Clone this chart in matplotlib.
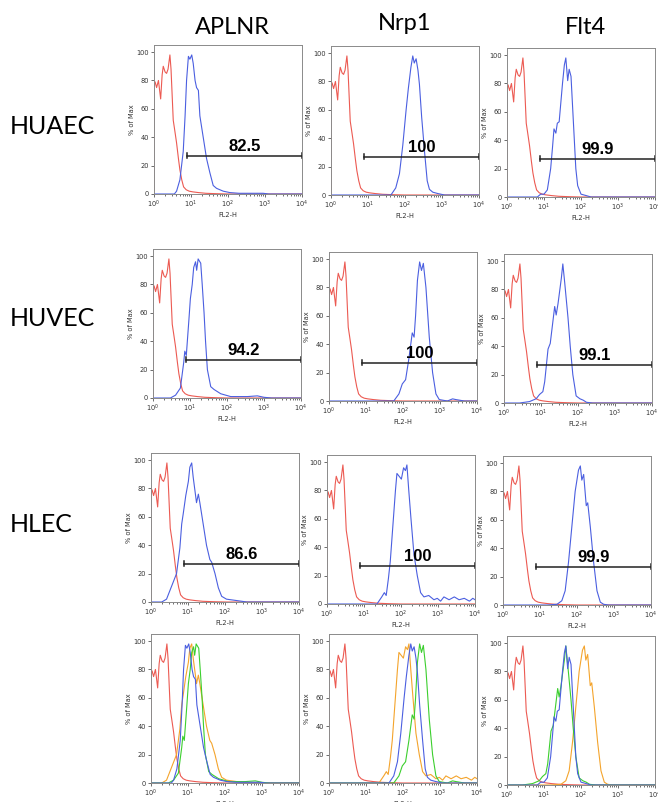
import numpy as np
import matplotlib.pyplot as plt

# column / row labels and gate percentages
markers = ['APLNR', 'Nrp1', 'Flt4']
cells = ['HUAEC', 'HUVEC', 'HLEC']
gate_values = [['82.5', '100', '99.9'],
               ['94.2', '100', '99.1'],
               ['86.6', '100', '99.9']]
gate_lo = 10 ** 0.9
gate_hi = 1e4
gate_y = 27

# histograms as (log10 FL2-H, % of Max)
control = [(0, 0), (0, 76), (0.03, 79), (0.07, 75), (0.12, 80), (0.18, 67), (0.22, 84),
           (0.25, 90), (0.3, 86), (0.34, 85), (0.38, 88), (0.43, 98), (0.46, 88),
           (0.49, 70), (0.52, 52), (0.56, 45), (0.61, 36), (0.66, 25), (0.7, 17),
           (0.75, 10), (0.8, 5), (0.87, 3), (0.95, 2), (1.05, 1.5), (1.2, 1),
           (1.4, 0.5), (1.7, 0.2), (2.0, 0), (4, 0)]

huaec_aplnr = [(0, 0), (0.55, 0), (0.61, 2), (0.7, 10), (0.79, 30), (0.84, 55), (0.88, 80),
               (0.93, 97), (0.97, 95), (1.02, 98), (1.06, 92), (1.11, 80), (1.15, 75),
               (1.2, 73), (1.24, 55), (1.33, 40), (1.42, 25), (1.51, 15), (1.6, 6),
               (1.69, 4), (1.87, 2), (2.05, 1), (2.3, 0.5), (2.95, 0.5), (3.1, 0), (4, 0)]
huaec_nrp1 = [(0, 0), (1.62, 0), (1.75, 5), (1.85, 15), (1.94, 35), (2.03, 60), (2.09, 75),
              (2.16, 90), (2.21, 98), (2.25, 93), (2.3, 96), (2.35, 88), (2.39, 78),
              (2.45, 55), (2.53, 30), (2.6, 10), (2.66, 4), (2.75, 2), (2.89, 1),
              (3.07, 0), (4, 0)]
huaec_flt4 = [(0, 0), (0.82, 0), (0.91, 2), (1.0, 2), (1.09, 5), (1.18, 20), (1.23, 35),
              (1.27, 48), (1.32, 45), (1.36, 52), (1.41, 53), (1.45, 65), (1.5, 80),
              (1.55, 93), (1.59, 98), (1.64, 82), (1.68, 90), (1.73, 85), (1.77, 65),
              (1.82, 40), (1.86, 20), (1.91, 8), (2.0, 2), (2.14, 1), (2.27, 0), (4, 0)]

huvec_aplnr = [(0, 0), (0.47, 0), (0.61, 2), (0.74, 7), (0.83, 25), (0.86, 33), (0.9, 30),
               (0.97, 55), (1.01, 70), (1.06, 80), (1.1, 92), (1.15, 96), (1.18, 90),
               (1.22, 98), (1.29, 95), (1.33, 80), (1.38, 60), (1.42, 40), (1.47, 20),
               (1.56, 8), (1.65, 6), (1.83, 3), (2.1, 1), (2.55, 1), (2.82, 1.5),
               (3.0, 0.5), (3.2, 0), (4, 0)]
huvec_nrp1 = [(0, 0), (1.75, 0), (1.89, 5), (1.98, 12), (2.07, 15), (2.16, 30), (2.25, 48),
              (2.3, 45), (2.34, 60), (2.39, 85), (2.45, 98), (2.5, 92), (2.55, 97),
              (2.62, 80), (2.71, 45), (2.8, 20), (2.89, 5), (2.98, 1), (3.2, 0),
              (3.34, 1.5), (3.43, 1), (3.66, 0), (4, 0)]
huvec_flt4 = [(0, 0), (0.42, 0), (0.69, 1), (0.87, 3), (0.96, 6), (1.05, 8), (1.1, 15),
              (1.19, 38), (1.25, 42), (1.31, 55), (1.37, 68), (1.41, 62), (1.46, 70),
              (1.55, 88), (1.59, 98), (1.64, 85), (1.73, 60), (1.79, 40), (1.86, 20),
              (1.95, 5), (2.05, 3), (2.14, 2), (2.23, 0.5), (2.4, 0), (4, 0)]

hlec_aplnr = [(0, 0), (0.29, 0), (0.42, 2), (0.51, 8), (0.6, 14), (0.69, 20), (0.78, 38),
              (0.83, 55), (0.87, 62), (0.94, 75), (1.01, 85), (1.05, 95), (1.1, 98),
              (1.14, 88), (1.19, 78), (1.23, 70), (1.28, 76), (1.32, 70), (1.41, 55),
              (1.5, 40), (1.59, 30), (1.64, 28), (1.73, 20), (1.82, 10), (1.91, 4),
              (2.04, 2), (2.32, 1), (2.59, 0), (4, 0)]
hlec_nrp1 = [(0, 0), (1.35, 0), (1.48, 5), (1.55, 8), (1.6, 6), (1.66, 18), (1.71, 30),
             (1.78, 55), (1.85, 80), (1.89, 92), (1.95, 90), (2.01, 88), (2.07, 96),
             (2.12, 94), (2.16, 98), (2.21, 80), (2.27, 60), (2.35, 35), (2.44, 20),
             (2.53, 8), (2.62, 5), (2.75, 6), (2.89, 3), (2.98, 4), (3.07, 2),
             (3.16, 5), (3.3, 3), (3.44, 5), (3.57, 3), (3.71, 4), (3.85, 2),
             (3.94, 4), (4.0, 3)]
hlec_flt4 = [(0, 0), (1.19, 0), (1.46, 0.5), (1.59, 3), (1.68, 10), (1.77, 30), (1.86, 55),
             (1.95, 80), (2.04, 95), (2.09, 98), (2.13, 88), (2.18, 92), (2.25, 70),
             (2.29, 72), (2.36, 55), (2.45, 30), (2.54, 10), (2.63, 2), (2.72, 0.5),
             (2.85, 0), (4, 0)]

curves = [[huaec_aplnr, huaec_nrp1, huaec_flt4],
          [huvec_aplnr, huvec_nrp1, huvec_flt4],
          [hlec_aplnr, hlec_nrp1, hlec_flt4]]

RED = '#ec5a52'
BLUE = '#4b5fe0'
GREEN = '#3ccf2e'
ORANGE = '#f4a42c'
overlay_colors = [BLUE, GREEN, ORANGE]

W, H = 658, 802
fig = plt.figure(figsize=(W / 100, H / 100), dpi=100)

# panel positions in pixels: left edges per row, y of the zero line per row
lefts = [[154, 331, 507], [153, 329, 504], [151, 327, 503], [151, 329, 507]]
zeros = [[194, 195, 197], [398, 401, 403], [602, 604, 605], [783, 783, 785]]
pw, ph = 148, 149


def draw_curve(ax, pts, color):
    lx, y = zip(*pts)
    ax.plot(10 ** np.array(lx), y, color=color, lw=0.8)


def style(ax):
    ax.set_xscale('log')
    ax.set_xlim(1, 1e4)
    ax.set_ylim(0, 105)
    ax.set_yticks([0, 20, 40, 60, 80, 100])
    ax.tick_params(labelsize=4.8, length=2, width=0.5, pad=1.5, colors='#333333')
    ax.tick_params(which='minor', length=1.2, width=0.4)
    for s in ax.spines.values():
        s.set_color('#8a8a8a')
        s.set_linewidth(0.7)
    ax.set_xlabel('FL2-H', fontsize=4.8, labelpad=1, color='#333333')
    ax.set_ylabel('% of Max', fontsize=4.8, labelpad=1, color='#333333')


for r in range(4):
    for c in range(3):
        ax = fig.add_axes([lefts[r][c] / W, (H - zeros[r][c]) / H, pw / W, ph / H])
        style(ax)
        draw_curve(ax, control, RED)
        if r < 3:
            draw_curve(ax, curves[r][c], BLUE)
            ax.plot([gate_lo, gate_hi], [gate_y, gate_y], color='#222222', lw=1.1)
            for gx in (gate_lo, gate_hi):
                ax.plot([gx, gx], [gate_y - 1.8, gate_y + 1.8], color='#222222', lw=1.1)
            ax.text(10 ** 2.45, gate_y + 1.5, gate_values[r][c], ha='center', va='bottom',
                    fontsize=12, fontweight='bold', family='Liberation Sans')
        else:
            for k in (2, 1, 0):
                draw_curve(ax, curves[k][c], overlay_colors[k])

# column titles and row labels
title_x = [232, 405, 585]
title_y = [27, 24, 27]
for name, x, y in zip(markers, title_x, title_y):
    fig.text(x / W, 1 - y / H, name, ha='center', va='center', fontsize=17, family='Lato')

row_y = [127, 318, 524]
for name, y in zip(cells, row_y):
    fig.text(10 / W, 1 - y / H, name, ha='left', va='center', fontsize=18, family='Lato')

fig.savefig('out.png', dpi=100, facecolor='white')
